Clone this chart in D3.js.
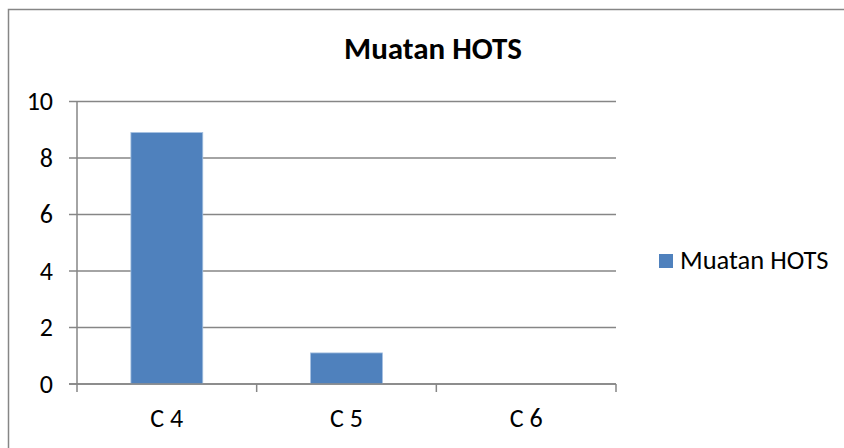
<!DOCTYPE html>
<html>
<head>
<meta charset="utf-8">
<script src="https://cdn.jsdelivr.net/npm/d3@7"></script>
<style>
  body { margin: 0; background: #fff; }
  text { font-family: Carlito, Calibri, "Open Sans", sans-serif; fill: #000; }
</style>
</head>
<body>
<svg id="chart" width="844" height="448"></svg>
<script>
// chart data
const categories = ["C 4", "C 5", "C 6"];
const values = [8.9, 1.1, 0];
const yTicks = [0, 2, 4, 6, 8, 10];
const seriesName = "Muatan HOTS";

let width = 844;
let height = 448;
let margin = { top: 101.5, right: 228, bottom: 64, left: 77 };

var svg = d3.select("#chart");
var gridColor = "#868686";

// outer frame (runs off the right and bottom edges)
svg.append("path")
  .attr("d", "M8.5,460V9.5H860")
  .attr("fill", "none")
  .attr("stroke", gridColor)
  .attr("stroke-width", 1.5);

var x = d3.scaleBand()
  .domain(categories)
  .range([margin.left, width - margin.right])
  .paddingInner(0.6)
  .paddingOuter(0.3);

var y = d3.scaleLinear()
  .domain([0, 10])
  .range([height - margin.bottom, margin.top]);

// gridlines
svg.append("g")
  .selectAll("line")
  .data(yTicks)
  .enter().append("line")
    .attr("x1", margin.left - 8)
    .attr("x2", width - margin.right)
    .attr("y1", d => y(d))
    .attr("y2", d => y(d))
    .attr("stroke", gridColor)
    .attr("stroke-width", 1.5);

// y axis line
svg.append("line")
  .attr("x1", margin.left).attr("x2", margin.left)
  .attr("y1", y(10)).attr("y2", y(0))
  .attr("stroke", gridColor)
  .attr("stroke-width", 1.5);

// y labels
svg.append("g")
  .selectAll("text")
  .data(yTicks)
  .enter().append("text")
    .attr("x", 53)
    .attr("y", d => y(d))
    .attr("dy", "0.33em")
    .attr("text-anchor", "end")
    .style("font-size", "26px")
    .text(d => d);

// x category ticks
var bounds = categories.map((c, i) => margin.left + i * (width - margin.right - margin.left) / categories.length);
bounds.push(width - margin.right);
svg.append("g")
  .selectAll("line")
  .data(bounds)
  .enter().append("line")
    .attr("x1", d => d).attr("x2", d => d)
    .attr("y1", y(0)).attr("y2", y(0) + 8)
    .attr("stroke", gridColor)
    .attr("stroke-width", 1.5);

// bars
svg.append("g")
  .selectAll("rect")
  .data(values)
  .enter().append("rect")
    .attr("x", (d, i) => x(categories[i]))
    .attr("y", d => y(d))
    .attr("width", x.bandwidth())
    .attr("height", d => y(0) - y(d))
    .attr("fill", "#4f81bd")
    .attr("stroke", "#a3bfe0")
    .attr("stroke-width", d => d > 0 ? 0.8 : 0);

// redraw baseline over the bars
svg.append("line")
  .attr("x1", margin.left - 8).attr("x2", width - margin.right)
  .attr("y1", y(0)).attr("y2", y(0))
  .attr("stroke", gridColor)
  .attr("stroke-width", 1.5);

// x labels
svg.append("g")
  .selectAll("text")
  .data(categories)
  .enter().append("text")
    .attr("x", d => x(d) + x.bandwidth() / 2)
    .attr("y", 427)
    .attr("text-anchor", "middle")
    .style("font-size", "26px")
    .text(d => d);

// title
svg.append("text")
  .attr("x", 433)
  .attr("y", 59)
  .attr("text-anchor", "middle")
  .style("font-size", "31px")
  .style("font-weight", "bold")
  .text(seriesName);

// legend
var legend = svg.append("g");
legend.append("rect")
  .attr("x", 659).attr("y", 254)
  .attr("width", 14).attr("height", 14)
  .attr("fill", "#4f81bd");
legend.append("text")
  .attr("x", 680).attr("y", 269)
  .style("font-size", "26.5px")
  .text(seriesName);
</script>
</body>
</html>
